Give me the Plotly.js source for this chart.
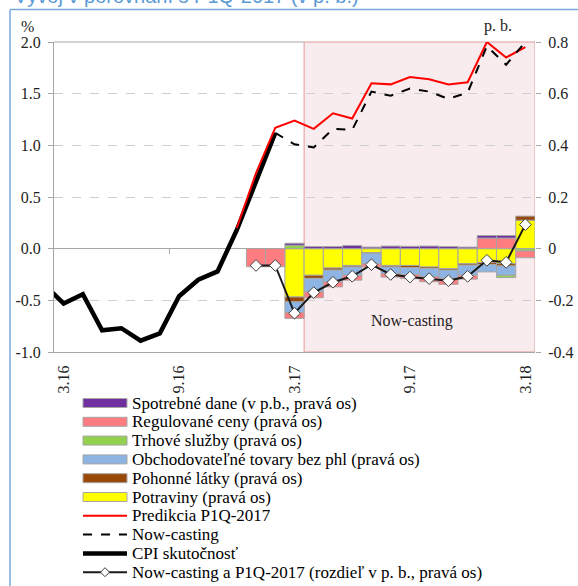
<!DOCTYPE html>
<html><head><meta charset="utf-8">
<script src="https://cdn.plot.ly/plotly-3.0.1.min.js"></script>
<style>html,body{margin:0;padding:0;background:#fff}#chart{width:578px;height:586px}</style>
</head><body><div id="chart"></div>
<script>
// ---- data ----
const months = ['2.16','3.16','4.16','5.16','6.16','7.16','8.16','9.16','10.16','11.16','12.16',
  '1.17','2.17','3.17','4.17','5.17','6.17','7.17','8.17','9.17','10.17','11.17','12.17','1.18','2.18','3.18'];
const xTickVals = ['3.16','9.16','3.17','9.17','3.18'];
const xTickText = ['3.16','9.16','3.17','9.17','3.18'];
const yTickVals = [-1,-0.5,0,0.5,1,1.5,2];
const yTickText = ['-1.0','-0.5','0.0','0.5','1.0','1.5','2.0'];
const y2TickVals = [-0.4,-0.2,0,0.2,0.4,0.6,0.8];
const y2TickText = ['-0.4','-0.2','0','0.2','0.4','0.6','0.8'];

// CPI actual (%, left axis)
const cpiActual = [-0.35,-0.53,-0.44,-0.79,-0.77,-0.89,-0.82,-0.46,-0.30,-0.22,0.18,0.66,1.12,
  null,null,null,null,null,null,null,null,null,null,null,null,null];
// Prediction P1Q-2017 (%, left axis)
const prediction = [null,null,null,null,null,null,null,null,null,null,0.20,0.73,1.17,
  1.24,1.16,1.31,1.26,1.60,1.59,1.66,1.64,1.59,1.61,2.00,1.85,1.95];
// Now-casting (%, left axis)
const nowcast = [null,null,null,null,null,null,null,null,null,null,null,null,1.12,
  1.01,0.98,1.16,1.15,1.52,1.48,1.55,1.52,1.45,1.51,1.96,1.78,2.00];

// Decomposition (p. b., right axis), months 1.17 .. 3.18
const barMonths = ['1.17','2.17','3.17','4.17','5.17','6.17','7.17','8.17','9.17','10.17','11.17','12.17','1.18','2.18','3.18'];
const diffNowPred = [-0.065,-0.065,-0.25,-0.17,-0.13,-0.107,-0.062,-0.10,-0.11,-0.116,-0.124,-0.107,-0.045,-0.053,0.093];
const potraviny  = [null,null,-0.187,-0.103,-0.075,-0.065,-0.015,-0.065,-0.065,-0.071,-0.077,-0.058,-0.054,-0.058,0.11];
const pohonne    = [null,null,-0.019,-0.012,-0.008,-0.006,-0.004,-0.006,-0.008,-0.006,-0.006,-0.006,-0.008,-0.009,0.016];
const obchodov   = [null,null,-0.041,-0.052,-0.046,-0.032,-0.040,-0.026,-0.028,-0.032,-0.032,-0.039,-0.028,-0.036,null];
const trhove     = [null,null,0.013,null,null,null,null,null,null,null,null,null,null,-0.009,-0.009];
const regulovane = [-0.07,-0.07,-0.023,-0.023,-0.019,-0.019,-0.012,-0.013,-0.015,-0.019,-0.023,-0.015,0.041,0.041,-0.026];
const spotrebne  = [null,null,0.008,0.008,0.008,0.012,0.006,0.010,0.009,0.010,0.008,0.006,0.010,0.010,null];

// ---- styling ----
const SERIF = 'Liberation Serif, Times New Roman, serif';
const W = 578, H = 586, ML = 54, MR = 43, MT = 42, MB = 234;
const PW = W - ML - MR, PH = H - MT - MB;
const px2x = px => (px - ML) / PW;
const py2y = py => (H - MB - py) / PH;

const barLine = {color:'#A6A6A6', width:1};
function bar(name, vals, color){
  return {type:'bar', name:name, x:barMonths, y:vals, yaxis:'y2',
    marker:{color:color, line:barLine}, hoverinfo:'skip'};
}
const barPotr = bar('Potraviny (pravá os)', potraviny, '#FFFF00');
const barPoh  = bar('Pohonné látky (pravá os)', pohonne, '#984807');
const barObch = bar('Obchodovateľné tovary bez phl (pravá os)', obchodov, '#8EB4E3');
const barTrh  = bar('Trhové služby (pravá os)', trhove, '#92D050');
const barReg  = bar('Regulované ceny (pravá os)', regulovane, '#FF7C80');
const barSpot = bar('Spotrebné dane (v p.b., pravá os)', spotrebne, '#7030A0');
const lineCPI = {type:'scatter', mode:'lines', name:'CPI skutočnosť', x:months, y:cpiActual,
    line:{color:'#000000', width:4.5}};
const linePred = {type:'scatter', mode:'lines', name:'Predikcia P1Q-2017', x:months, y:prediction,
    line:{color:'#FF0000', width:2}};
const lineNow = {type:'scatter', mode:'lines', name:'Now-casting', x:months, y:nowcast,
    line:{color:'#000000', width:2, dash:'dash'}};
const lineDiff = {type:'scatter', mode:'lines+markers', name:'Now-casting a P1Q-2017 (rozdieľ v p. b., pravá os)',
    x:barMonths, y:diffNowPred, yaxis:'y2',
    line:{color:'#1a1a1a', width:2},
    marker:{symbol:'diamond', size:9, color:'#FFFFFF', line:{color:'#404040', width:1}}};

// stacking order from zero outward: Potraviny, Pohonné, Obchodovateľné, Trhové, Regulované, Spotrebné
const traces = [barPotr, barPoh, barObch, barTrh, barReg, barSpot, lineCPI, linePred, lineNow, lineDiff];
// legend order as in the reference
const legendOrder = [barSpot, barReg, barTrh, barObch, barPoh, barPotr, linePred, lineNow, lineCPI, lineDiff];

const shapes = [
  {type:'rect', xref:'x', yref:'paper', x0:13.5, x1:25.5, y0:0, y1:1,
    fillcolor:'#F9ECEE', line:{color:'#E39A9A', width:1}, layer:'between'},
  {type:'line', xref:'x', yref:'paper', x0:0.5, x1:13.5, y0:1, y1:1, line:{color:'#A6A6A6', width:1}},
  {type:'line', xref:'x', yref:'y', x0:6.5, x1:6.5, y0:0, y1:-0.05, line:{color:'#A6A6A6', width:1}, layer:'below'},
  {type:'line', xref:'paper', yref:'paper', x0:px2x(10), x1:px2x(10), y0:py2y(9.5), y1:py2y(600), line:{color:'#7BA7DC', width:1.5}},
  {type:'line', xref:'paper', yref:'paper', x0:px2x(10), x1:px2x(600), y0:py2y(9.5), y1:py2y(9.5), line:{color:'#7BA7DC', width:1.5}}
];
const annotations = [
  {text:'%', xref:'paper', yref:'paper', x:px2x(27.5), y:py2y(26), xanchor:'center', yanchor:'middle', showarrow:false,
    font:{family:SERIF, size:16, color:'#222'}},
  {text:'p. b.', xref:'paper', yref:'paper', x:px2x(498), y:py2y(26), xanchor:'center', yanchor:'middle', showarrow:false,
    font:{family:SERIF, size:16, color:'#222'}},
  {text:'Now-casting', xref:'x', yref:'y', x:19.1, y:-0.70, xanchor:'center', yanchor:'middle', showarrow:false,
    font:{family:SERIF, size:16, color:'#222'}},
  {text:'Vývoj v porovnaní s P1Q-2017 (v p. b.)', xref:'paper', yref:'paper', x:px2x(12), y:py2y(-4),
    xanchor:'left', yanchor:'middle', showarrow:false,
    font:{family:'Liberation Sans, Arial, sans-serif', size:20, color:'#5B9BD5'}}
];

// legend drawn as symbol + text rows (keeps the reference's wide swatches and tight rows)
const LEG_X0 = 83, LEG_X1 = 127, LEG_TX = 131, LEG_Y0 = 403, LEG_DY = 18.8;
legendOrder.forEach((tr, i) => {
  const cy = LEG_Y0 + LEG_DY * i;
  if (tr.type === 'bar') {
    shapes.push({type:'rect', xref:'paper', yref:'paper', x0:px2x(LEG_X0), x1:px2x(LEG_X1),
      y0:py2y(cy - 4.5), y1:py2y(cy + 4.5), fillcolor:tr.marker.color, line:{color:'#A6A6A6', width:1}});
  } else {
    shapes.push({type:'line', xref:'paper', yref:'paper', x0:px2x(LEG_X0), x1:px2x(LEG_X1),
      y0:py2y(cy), y1:py2y(cy), line:{color:tr.line.color, width:tr.line.width, dash:tr.line.dash || 'solid'}});
    if (tr.mode && tr.mode.indexOf('markers') >= 0) {
      const mx = (LEG_X0 + LEG_X1) / 2, r = 4.5;
      shapes.push({type:'path', xref:'paper', yref:'paper',
        path:`M${px2x(mx - r)},${py2y(cy)} L${px2x(mx)},${py2y(cy - r)} L${px2x(mx + r)},${py2y(cy)} L${px2x(mx)},${py2y(cy + r)} Z`,
        fillcolor:'#FFFFFF', line:{color:'#404040', width:1}});
    }
  }
  annotations.push({text:tr.name, xref:'paper', yref:'paper', x:px2x(LEG_TX), y:py2y(cy),
    xanchor:'left', yanchor:'middle', showarrow:false, borderpad:0,
    font:{family:SERIF, size:17, color:'#000'}});
});

const layout = {
  width:W, height:H,
  margin:{l:ML, r:MR, t:MT, b:MB},
  paper_bgcolor:'#FFFFFF', plot_bgcolor:'#FFFFFF',
  barmode:'relative', bargap:0,
  showlegend:false,
  font:{family:SERIF, color:'#1f1f1f'},
  xaxis:{type:'category', categoryorder:'array', categoryarray:months, range:[0.5,25.5],
    tickmode:'array', tickvals:xTickVals, ticktext:xTickText, tickangle:-90,
    tickfont:{family:SERIF, size:16, color:'#222'}, ticks:'', ticklabelstandoff:6,
    showline:true, linecolor:'#A6A6A6', linewidth:1, showgrid:false, zeroline:false, fixedrange:true},
  yaxis:{range:[-1,2], tickmode:'array', tickvals:yTickVals, ticktext:yTickText,
    tickfont:{family:SERIF, size:16, color:'#222'},
    showgrid:true, gridcolor:'#CFCFCF', griddash:'dash', gridwidth:1,
    zeroline:true, zerolinecolor:'#A6A6A6', zerolinewidth:1,
    showline:true, linecolor:'#A6A6A6', linewidth:1,
    ticks:'outside', ticklen:5, tickcolor:'#A6A6A6', ticklabelstandoff:4, fixedrange:true},
  yaxis2:{range:[-0.4,0.8], overlaying:'y', side:'right', tickmode:'array', tickvals:y2TickVals, ticktext:y2TickText,
    tickfont:{family:SERIF, size:16, color:'#222'}, showgrid:false, zeroline:false, showline:false,
    ticks:'outside', ticklen:5, tickcolor:'#A6A6A6', ticklabelstandoff:4, fixedrange:true},
  shapes:shapes,
  annotations:annotations
};

Plotly.newPlot('chart', traces, layout, {displayModeBar:false, staticPlot:true});
</script>
</body></html>
